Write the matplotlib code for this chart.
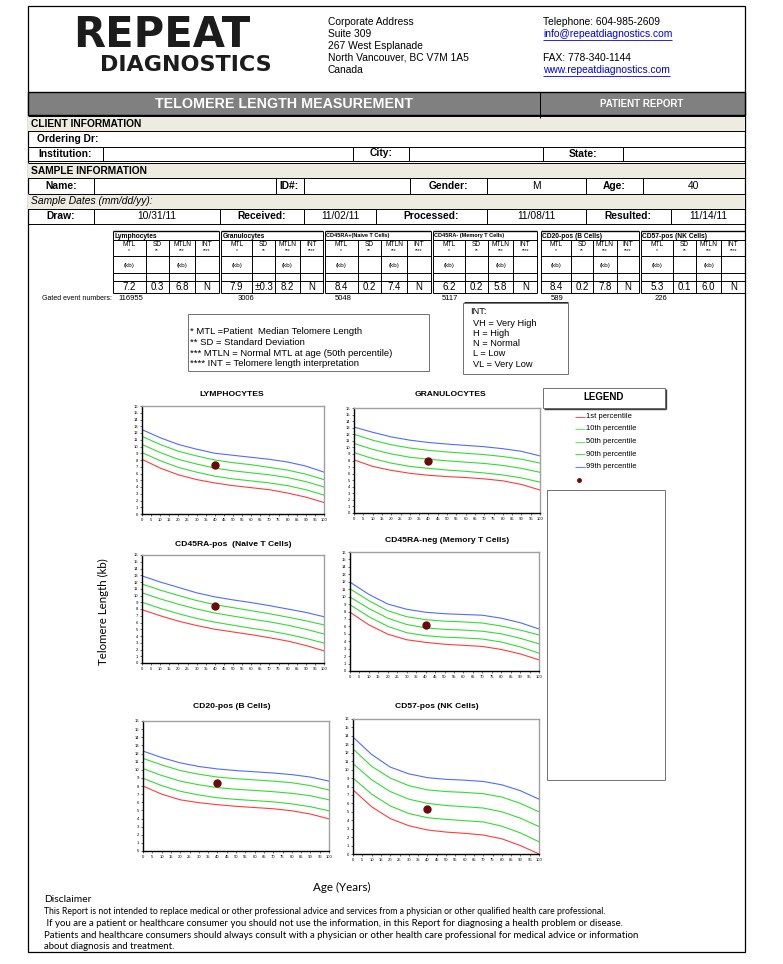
import matplotlib
matplotlib.use('Agg')
import matplotlib.pyplot as plt
from matplotlib.patches import Rectangle

plt.rcParams['font.family'] = ['Liberation Sans', 'DejaVu Sans']

# ---------------------------------------------------------------- data
ADDRESS = ['Corporate Address', 'Suite 309', '267 West Esplanade',
           'North Vancouver, BC V7M 1A5', 'Canada']
PHONE = 'Telephone: 604-985-2609'
EMAIL = 'info@repeatdiagnostics.com'
FAX = 'FAX: 778-340-1144'
WEB = 'www.repeatdiagnostics.com'

GROUPS = ['Lymphocytes', 'Granulocytes', 'CD45RA+(Naive T Cells)',
          'CD45RA- (Memory T Cells)', 'CD20-pos (B Cells)', 'CD57-pos (NK Cells)']
MTL = ['7.2', '7.9', '8.4', '6.2', '8.4', '5.3']
SD = ['0.3', '±0.3', '0.2', '0.2', '0.2', '0.1']
MTLN = ['6.8', '8.2', '7.4', '5.8', '7.8', '6.0']
INT = ['N', 'N', 'N', 'N', 'N', 'N']
GATED = ['116955', '3006', '5048', '5117', '589', '226']

AGES = [0, 10, 20, 30, 40, 50, 60, 70, 80, 90, 100]
PCT_LABELS = ['1st percentile', '10th percentile', '50th percentile',
              '90th percentile', '99th percentile']

LYMPH = {
    'p1':  [8.1, 6.8, 5.8, 5.1, 4.6, 4.2, 3.9, 3.6, 3.1, 2.5, 1.7],
    'p10': [9.1, 7.9, 6.9, 6.2, 5.6, 5.2, 4.9, 4.6, 4.2, 3.6, 2.8],
    'p50': [10.3, 9.1, 8.1, 7.4, 6.8, 6.4, 6.1, 5.8, 5.4, 4.8, 4.0],
    'p90': [11.5, 10.3, 9.3, 8.6, 8.0, 7.6, 7.3, 6.9, 6.5, 5.9, 5.1],
    'p99': [12.5, 11.3, 10.3, 9.6, 9.0, 8.7, 8.4, 8.1, 7.7, 7.1, 6.2],
}
GRAN = {
    'p1':  [8.1, 7.1, 6.5, 6.05, 5.75, 5.55, 5.4, 5.2, 4.9, 4.35, 3.5],
    'p10': [9.2, 8.3, 7.6, 7.1, 6.8, 6.55, 6.35, 6.1, 5.8, 5.35, 4.7],
    'p50': [10.6, 9.7, 9.0, 8.5, 8.2, 7.95, 7.75, 7.55, 7.25, 6.8, 6.2],
    'p90': [12.0, 11.1, 10.4, 9.9, 9.55, 9.3, 9.1, 8.9, 8.6, 8.2, 7.6],
    'p99': [13.1, 12.3, 11.6, 11.1, 10.75, 10.5, 10.3, 10.1, 9.8, 9.4, 8.7],
}
NAIVE = {
    'p1':  [7.9, 7.0, 6.2, 5.55, 5.0, 4.6, 4.2, 3.75, 3.25, 2.6, 1.8],
    'p10': [9.0, 8.1, 7.3, 6.6, 6.05, 5.6, 5.15, 4.75, 4.25, 3.65, 2.95],
    'p50': [10.4, 9.5, 8.7, 8.0, 7.4, 6.95, 6.5, 6.1, 5.6, 5.0, 4.3],
    'p90': [11.7, 10.8, 10.0, 9.25, 8.65, 8.2, 7.75, 7.3, 6.8, 6.25, 5.65],
    'p99': [12.9, 12.0, 11.2, 10.4, 9.8, 9.35, 8.95, 8.5, 8.0, 7.5, 6.85],
}
MEMORY = {
    'p1':  [7.9, 6.2, 4.95, 4.2, 3.85, 3.6, 3.45, 3.3, 2.9, 2.3, 1.5],
    'p10': [8.9, 7.3, 6.0, 5.15, 4.75, 4.55, 4.45, 4.3, 3.9, 3.25, 2.4],
    'p50': [9.95, 8.4, 7.1, 6.25, 5.8, 5.6, 5.5, 5.35, 5.0, 4.4, 3.65],
    'p90': [11.05, 9.45, 8.1, 7.3, 6.9, 6.7, 6.6, 6.45, 6.05, 5.5, 4.85],
    'p99': [11.95, 10.3, 9.0, 8.3, 7.9, 7.7, 7.6, 7.5, 7.1, 6.5, 5.65],
}
BCELL = {
    'p1':  [8.0, 7.0, 6.3, 5.95, 5.7, 5.5, 5.35, 5.2, 4.95, 4.55, 3.95],
    'p10': [8.95, 8.05, 7.35, 6.9, 6.55, 6.35, 6.2, 6.05, 5.8, 5.45, 4.95],
    'p50': [10.15, 9.3, 8.6, 8.15, 7.8, 7.6, 7.45, 7.3, 7.1, 6.8, 6.3],
    'p90': [11.4, 10.6, 9.9, 9.45, 9.1, 8.9, 8.75, 8.6, 8.4, 8.05, 7.5],
    'p99': [12.3, 11.5, 10.85, 10.4, 10.1, 9.9, 9.75, 9.6, 9.4, 9.1, 8.6],
}
NKCELL = {
    'p1':  [7.6, 5.6, 4.2, 3.35, 2.85, 2.6, 2.45, 2.25, 1.8, 1.0, 0.0],
    'p10': [9.0, 7.1, 5.7, 4.8, 4.3, 4.1, 3.95, 3.8, 3.3, 2.5, 1.45],
    'p50': [10.7, 8.8, 7.4, 6.5, 6.0, 5.75, 5.6, 5.45, 5.0, 4.25, 3.25],
    'p90': [12.45, 10.4, 9.0, 8.1, 7.6, 7.4, 7.3, 7.15, 6.75, 6.0, 5.0],
    'p99': [13.85, 11.8, 10.3, 9.5, 9.05, 8.85, 8.75, 8.6, 8.2, 7.5, 6.5],
}
PATIENT_AGE = 40
CHART_TITLES = ['LYMPHOCYTES', 'GRANULOCYTES', 'CD45RA-pos  (Naive T Cells)',
                'CD45RA-neg (Memory T Cells)', 'CD20-pos (B Cells)', 'CD57-pos (NK Cells)']
CHART_DATA = [LYMPH, GRAN, NAIVE, MEMORY, BCELL, NKCELL]
PATIENT_MTL = [7.2, 7.9, 8.4, 6.2, 8.4, 5.3]

DISCLAIMER = [
    'This Report is not intended to replace medical or other professional advice and services from a physician or other qualified health care professional.',
    ' If you are a patient or healthcare consumer you should not use the information, in this Report for diagnosing a health problem or disease.',
    'Patients and healthcare consumers should always consult with a physician or other health care professional for medical advice or information',
    'about diagnosis and treatment.',
]

# ---------------------------------------------------------------- page
W, H = 783, 964
fig = plt.figure(figsize=(W / 100, H / 100), dpi=100)
bg = fig.add_axes([0, 0, 1, 1])
bg.set_xlim(0, W)
bg.set_ylim(H, 0)
bg.axis('off')


def line(x0, y0, x1, y1, lw=0.7, c='black'):
    bg.plot([x0, x1], [y0, y1], color=c, lw=lw, solid_capstyle='butt')


def txt(x, y, s, size=7, ha='left', **kw):
    return bg.text(x, y, s, fontsize=size, ha=ha, va='center', **kw)


def box(x0, y0, x1, y1, fc='none', ec='black', lw=0.7):
    bg.add_patch(Rectangle((x0, y0), x1 - x0, y1 - y0, fc=fc, ec=ec, lw=lw))


def underline(t, c):
    fig.canvas.draw()
    bb = t.get_window_extent().transformed(bg.transData.inverted())
    y = max(bb.y0, bb.y1)
    line(bb.x0, y + 0.5, bb.x1, y + 0.5, 0.6, c)


L, R = 28, 745
box(L, 6, R, 952, lw=0.9)

# logo + address
txt(162, 35, 'REPEAT', 30, ha='center', family='DejaVu Sans', weight='bold', color='#1c1c1c')
txt(186, 65, 'DIAGNOSTICS', 16, ha='center', family='DejaVu Sans', weight='bold', color='#1c1c1c')
for i, s in enumerate(ADDRESS):
    txt(328, 22 + 12 * i, s, 7.4)
txt(543, 22, PHONE, 7.4)
underline(txt(543, 34, EMAIL, 7.4, color='#0000ee'), '#0000ee')
txt(543, 58, FAX, 7.4)
underline(txt(543, 70, WEB, 7.4, color='#0000ee'), '#0000ee')

# grey title bar
box(L, 92, R, 115, fc='#808080', lw=1.0)
line(540, 92, 540, 118)
txt(284, 104, 'TELOMERE LENGTH MEASUREMENT', 10.3, ha='center', weight='bold', color='white')
txt(642, 104, 'PATIENT REPORT', 7, ha='center', weight='bold', color='white')

# client / sample information table
FS = 7.4
BEIGE = '#eeece1'
for y0, y1 in [(116, 131), (163, 178), (194, 209)]:
    box(L, y0, R, y1, fc=BEIGE, ec='none')
for y in [116, 131, 147, 161, 163, 178, 194, 209, 224]:
    line(L, y, R, y)
txt(31, 124, 'CLIENT INFORMATION', FS, weight='bold')
txt(37, 139, 'Ordering Dr:', FS, weight='bold')
for x in [103, 353, 409, 543, 623]:
    line(x, 147, x, 161)
txt(65, 154, 'Institution:', FS, ha='center', weight='bold')
txt(381, 153, 'City:', FS, ha='center', weight='bold')
txt(583, 154, 'State:', FS, ha='center', weight='bold')
txt(31, 171, 'SAMPLE INFORMATION', FS, weight='bold')
for x in [94, 276, 304, 410, 487, 586, 643]:
    line(x, 178, x, 194)
txt(61, 186, 'Name:', FS, ha='center', weight='bold')
txt(289, 186, 'ID#:', FS, ha='center', weight='bold')
txt(448, 186, 'Gender:', FS, ha='center', weight='bold')
txt(536, 186, 'M', FS, ha='center')
txt(614, 186, 'Age:', FS, ha='center', weight='bold')
txt(694, 186, '40', FS, ha='center')
txt(31, 201, 'Sample Dates (mm/dd/yy):', FS, style='italic')
for x in [94, 220, 304, 376, 487, 586, 671]:
    line(x, 209, x, 224)
draw_cells = [(61, 'Draw:', 'bold'), (157, '10/31/11', 'normal'), (262, 'Received:', 'bold'),
              (340, '11/02/11', 'normal'), (431, 'Processed:', 'bold'), (536, '11/08/11', 'normal'),
              (628, 'Resulted:', 'bold'), (708, '11/14/11', 'normal')]
for x, s, wt in draw_cells:
    txt(x, 216, s, FS, ha='center', weight=wt)

# results table
G_LEFT = [113, 221, 325, 433, 541, 641]
G_RIGHT = [219, 323, 431, 537, 639, 745]
COL_FR = [0, 0.307, 0.528, 0.774, 1.0]
ROWS_Y = [231, 240, 256, 273, 281, 293]
for g in range(6):
    gl, gr = G_LEFT[g], G_RIGHT[g]
    w = gr - gl
    xs = [gl + f * w for f in COL_FR]
    line(gl, ROWS_Y[0], gr, ROWS_Y[0], 1.0)
    for y in ROWS_Y[1:]:
        line(gl, y, gr, y)
    line(gl, ROWS_Y[0], gl, ROWS_Y[-1])
    line(gr, ROWS_Y[0], gr, ROWS_Y[-1])
    for x in xs[1:-1]:
        line(x, ROWS_Y[1], x, ROWS_Y[-1])
    gsize = 4.0 if g in (2, 3) else 4.8
    txt(gl + 1.5, 236, GROUPS[g], gsize, weight='bold')
    cents = [(xs[i] + xs[i + 1]) / 2 for i in range(4)]
    for c, lab, star in zip(cents, ['MTL', 'SD', 'MTLN', 'INT'], ['*', '**', '***', '****']):
        txt(c, 245, lab, 4.8, ha='center')
        txt(c, 251, star, 3.5, ha='center')
    txt(cents[0], 265, '(kb)', 4.5, ha='center')
    txt(cents[2], 265, '(kb)', 4.5, ha='center')
    for c, v in zip(cents, [MTL[g], SD[g], MTLN[g], INT[g]]):
        txt(c, 287, v, 7, ha='center')
txt(42, 299, 'Gated event numbers:', 5.0)
for x, s in zip([118, 238, 335, 442, 551, 655], GATED):
    txt(x, 299, s, 5.5)
line(464, 302, 568, 302, 0.6)

# footnotes
box(188, 314, 429, 371, ec='#707070')
for i, s in enumerate(['* MTL =Patient  Median Telomere Length', '** SD = Standard Deviation',
                       '*** MTLN = Normal MTL at age (50th percentile)',
                       '**** INT = Telomere length interpretation']):
    txt(190, 332 + 10.5 * i, s, 6.8)
box(463, 303, 568, 374, ec='#707070')
txt(470, 312, 'INT:', 6.7)
for i, s in enumerate(['VH = Very High', 'H = High', 'N = Normal', 'L = Low', 'VL = Very Low']):
    txt(473, 323 + 10.3 * i, s, 6.7)

# legend
box(543, 388, 665, 408, ec='#707070')
line(544, 408.5, 665.5, 408.5, 1.0, '#404040')
line(665.5, 389, 665.5, 408.5, 1.0, '#404040')
txt(604, 397, 'LEGEND', 7, ha='center', weight='bold')
LEG_COLORS = ['#ff5a5a', '#66ee66', '#66ee66', '#55dd55', '#6680ff']
for i, (lab, c) in enumerate(zip(PCT_LABELS, LEG_COLORS)):
    y = 416.5 + 12.5 * i
    line(575, y, 585, y, 0.8, c)
    txt(586.5, y, lab, 5.5)
bg.plot([579], [480], 'o', color='#6b0a0a', ms=2.5)
box(547, 490, 665, 780, ec='#707070')

# charts
BOXES = [(142, 406, 324, 514), (354, 408, 540, 513), (142, 555, 324, 663),
         (350, 552, 539, 671), (143, 721, 329, 851), (353, 719, 539, 854)]
TITLE_POS = [(232, 394), (450, 394), (233, 544), (447, 540), (232, 707), (437, 706)]
CURVE_COLORS = ['#ff3c3c', '#33dd33', '#33dd33', '#33dd33', '#4e6cff']
for (l, t, r, b), (tx, ty), title, data, mtl in zip(BOXES, TITLE_POS, CHART_TITLES, CHART_DATA, PATIENT_MTL):
    ax = fig.add_axes([l / W, 1 - b / H, (r - l) / W, (b - t) / H])
    for key, c in zip(['p1', 'p10', 'p50', 'p90', 'p99'], CURVE_COLORS):
        ax.plot(AGES, data[key], color=c, lw=0.8)
    ax.plot([PATIENT_AGE], [mtl], 'o', color='#6b0a0a', ms=5)
    ax.set_xlim(0, 100)
    ax.set_ylim(0, 16)
    ax.set_xticks(range(0, 101, 5))
    ax.set_yticks(range(0, 17))
    ax.tick_params(labelsize=3, length=1.5, width=0.4, pad=1.5)
    for s in ['top', 'right']:
        ax.spines[s].set_color('#a0a0a0')
        ax.spines[s].set_linewidth(1.0)
    for s in ['left', 'bottom']:
        ax.spines[s].set_color('black')
        ax.spines[s].set_linewidth(1.0)
    txt(tx, ty, title, 6.1, ha='center', weight='bold')

CAL = ['Lato', 'DejaVu Sans']
txt(103, 612, 'Telomere Length (kb)', 8.3, ha='center', rotation=90, family=CAL)
txt(342, 887, 'Age (Years)', 8.4, ha='center', family=CAL)
txt(44, 900, 'Disclaimer', 7.4, family=CAL)
for i, s in enumerate(DISCLAIMER):
    txt(44, 912 + 11.5 * i, s, 6.2 if i == 0 else 6.9, family=CAL)

fig.savefig('out.png', dpi=100)
